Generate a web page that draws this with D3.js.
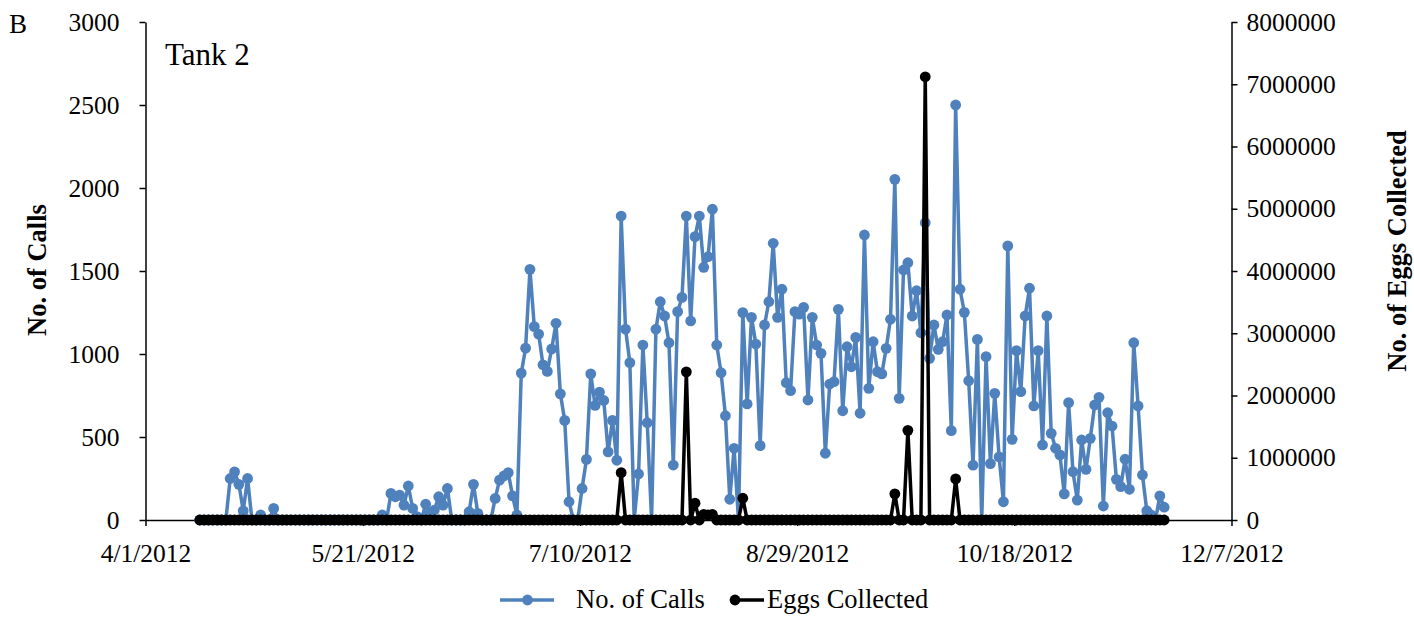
<!DOCTYPE html>
<html>
<head>
<meta charset="utf-8">
<script src="https://cdn.jsdelivr.net/npm/d3@7/dist/d3.min.js"></script>
<style>
  html, body { margin: 0; padding: 0; background: #fff; }
  svg { display: block; }
  text { font-family: "Liberation Serif", "Times New Roman", serif; fill: #000; }
</style>
</head>
<body>
<svg id="chart" width="1414" height="617"></svg>
<script>
// Daily observations, Tank 2, starting 4/13/2012 (one value per day through 11/21/2012)
const firstDay = "2012-04-13";

const calls = [
  0, 0, 0, 0, 0, 0, 0,                                   // 4/13 - 4/19
  250, 290, 215, 55, 250, 0, 0, 30, 0, 0, 70,            // 4/20 - 4/30
  0, 0, 0, 0, 0, 0, 0, 0, 0, 0, 0, 0,                    // 5/1 - 5/12
  0, 0, 0, 0, 0, 0, 0, 0, 0, 0, 0, 0,                    // 5/13 - 5/24
  30, 0, 160, 140, 150, 90, 205, 70, 20, 0, 95, 40,      // 5/25 - 6/5
  60, 140, 90, 190, 0, 0, 0, 0, 50, 215, 40, 0,          // 6/6 - 6/17
  0, 0, 130, 240, 265, 285, 145, 30, 885, 1035, 1510,    // 6/18 - 6/28
  1165, 1120, 935, 895, 1030, 1185, 760, 600, 110, 0, 0, // 6/29 - 7/9
  190, 365, 880, 690, 770, 720, 410, 600, 360, 1831,     // 7/10 - 7/19
  1150, 948, 0, 277, 1054, 586, 0, 1149, 1315, 1229,     // 7/20 - 7/29
  1068, 331, 1255, 1341, 1831, 1199, 1707, 1831, 1522,   // 7/30 - 8/7
  1586, 1872, 1054, 887, 628, 125, 432, 0, 1249, 699,    // 8/8 - 8/17
  1221, 1060, 448, 1175, 1315, 1667, 1221, 1390, 827,    // 8/18 - 8/26
  779, 1255, 1240, 1281, 723, 1221, 1054, 1004, 402,     // 8/27 - 9/4
  819, 833, 1269, 658, 1044, 923, 1100, 643, 1717, 793,  // 9/5 - 9/14
  1074, 893, 880, 1034, 1209, 2052, 733, 1506, 1550,     // 9/15 - 9/23
  1229, 1381, 1128, 1791, 974, 1175, 1028, 1074, 1235,   // 9/24 - 10/2
  538, 2500, 1390, 1251, 839, 330, 1088, 0, 984, 340,    // 10/3 - 10/12
  763, 380, 110, 1651, 486, 1020, 773, 1229, 1396, 687,  // 10/13 - 10/22
  1020, 452, 1229, 522, 432, 392, 157, 707, 291, 120,    // 10/23 - 11/1
  482, 305, 492, 693, 739, 84, 646, 566, 245, 201,       // 11/2 - 11/11
  366, 185, 1068, 687, 271, 56, 30, 0, 145, 77           // 11/12 - 11/21
];

const eggs = [
  0, 0, 0, 0, 0, 0, 0,
  0, 0, 0, 0, 0, 0, 0, 0, 0, 0, 0,
  0, 0, 0, 0, 0, 0, 0, 0, 0, 0, 0, 0,
  0, 0, 0, 0, 0, 0, 0, 0, 0, 0, 0, 0,
  0, 0, 0, 0, 0, 0, 0, 0, 0, 0, 0, 0,
  0, 0, 0, 0, 0, 0, 0, 0, 0, 0, 0, 0,
  0, 0, 0, 0, 0, 0, 0, 0, 0, 0, 0,
  0, 0, 0, 0, 0, 0, 0, 0, 0, 0, 0,
  0, 0, 0, 0, 0, 0, 0, 0, 0, 760000,
  0, 0, 0, 0, 0, 0, 0, 0, 0, 0,
  0, 0, 0, 0, 2380000, 0, 270000, 0, 90000,
  80000, 90000, 0, 0, 0, 0, 0, 0, 350000, 0,
  0, 0, 0, 0, 0, 0, 0, 0, 0,
  0, 0, 0, 0, 0, 0, 0, 0, 0,
  0, 0, 0, 0, 0, 0, 0, 0, 0, 0,
  0, 0, 0, 0, 0, 420000, 0, 0, 1440000,
  0, 0, 0, 7120000, 0, 0, 0, 0, 0,
  0, 660000, 0, 0, 0, 0, 0, 0, 0, 0,
  0, 0, 0, 0, 0, 0, 0, 0, 0, 0,
  0, 0, 0, 0, 0, 0, 0, 0, 0, 0,
  0, 0, 0, 0, 0, 0, 0, 0, 0, 0,
  0, 0, 0, 0, 0, 0, 0, 0, 0, 0
];

const dateTicks = ["4/1/2012", "5/21/2012", "7/10/2012", "8/29/2012", "10/18/2012", "12/7/2012"];
const callTicks = [0, 500, 1000, 1500, 2000, 2500, 3000];
const eggTicks = [0, 1000000, 2000000, 3000000, 4000000, 5000000, 6000000, 7000000, 8000000];
const seriesNames = ["No. of Calls", "Eggs Collected"];

const blue = "#4F81BD";
const svg = d3.select("#chart");

const plot = { left: 145.5, right: 1231.5, top: 22, bottom: 520 };

const parseUS = d3.timeParse("%m/%d/%Y");
const tickDates = dateTicks.map(parseUS);
const start = d3.timeParse("%Y-%m-%d")(firstDay);

// each day sits in the middle of its one-day slot on the date axis
const rows = calls.map((c, i) => ({
  date: d3.timeHour.offset(d3.timeDay.offset(start, i), 12),
  calls: c,
  eggs: eggs[i]
}));

const x = d3.scaleTime()
  .domain([tickDates[0], tickDates[tickDates.length - 1]])
  .range([plot.left, plot.right]);
const yL = d3.scaleLinear().domain([0, 3000]).range([plot.bottom, plot.top]);
const yR = d3.scaleLinear().domain([0, 8000000]).range([plot.bottom, plot.top]);

const fontSize = 25.5;

// left axis
const gL = svg.append("g").attr("transform", `translate(${plot.left},0)`)
  .call(d3.axisLeft(yL).tickValues(callTicks).tickSize(6).tickSizeOuter(0).tickPadding(20).tickFormat(d3.format("d")));
// right axis
const gR = svg.append("g").attr("transform", `translate(${plot.right},0)`)
  .call(d3.axisRight(yR).tickValues(eggTicks).tickSize(6).tickSizeOuter(0).tickPadding(9).tickFormat(d3.format("d")));
// bottom axis
const gB = svg.append("g").attr("transform", `translate(0,${plot.bottom})`)
  .call(d3.axisBottom(x).tickValues(tickDates).tickSize(6).tickSizeOuter(0).tickPadding(18).tickFormat(d3.timeFormat("%-m/%-d/%Y")));

[gL, gR, gB].forEach(g => {
  g.selectAll("path.domain").attr("stroke", "#000").attr("stroke-width", 1.5);
  g.selectAll(".tick line").attr("stroke", "#000").attr("stroke-width", 1.5);
  g.selectAll(".tick text")
    .attr("font-family", "'Liberation Serif', 'Times New Roman', serif")
    .attr("font-size", fontSize).attr("fill", "#000");
});
gB.select("path.domain").raise();

// calls series (blue)
const lineCalls = d3.line().x(d => x(d.date)).y(d => yL(d.calls));
svg.append("path").datum(rows)
  .attr("fill", "none").attr("stroke", blue).attr("stroke-width", 3.5)
  .attr("stroke-linejoin", "round").attr("d", lineCalls);
svg.append("g").selectAll("circle").data(rows).join("circle")
  .attr("cx", d => x(d.date)).attr("cy", d => yL(d.calls)).attr("r", 5.4)
  .attr("fill", blue);

// eggs series (black) drawn over the calls
const lineEggs = d3.line().x(d => x(d.date)).y(d => yR(d.eggs));
svg.append("path").datum(rows)
  .attr("fill", "none").attr("stroke", "#000").attr("stroke-width", 3.5)
  .attr("stroke-linejoin", "round").attr("d", lineEggs);
svg.append("g").selectAll("circle").data(rows).join("circle")
  .attr("cx", d => x(d.date)).attr("cy", d => yR(d.eggs)).attr("r", 5.4)
  .attr("fill", "#000");

// axis titles
svg.append("text")
  .attr("transform", "translate(46,270) rotate(-90)")
  .attr("text-anchor", "middle").attr("font-weight", "bold").attr("font-size", 26.5)
  .text("No. of Calls");
svg.append("text")
  .attr("transform", "translate(1406,251) rotate(-90)")
  .attr("text-anchor", "middle").attr("font-weight", "bold").attr("font-size", 26.5)
  .text("No. of Eggs Collected");

// panel letter and tank label
svg.append("text").attr("x", 9).attr("y", 32.5).attr("font-size", 27).text("B");
svg.append("text").attr("x", 165).attr("y", 65).attr("font-size", 31).text("Tank 2");

// legend
const lg = svg.append("g");
const ly = 600;
lg.append("line").attr("x1", 500).attr("x2", 554).attr("y1", ly).attr("y2", ly)
  .attr("stroke", blue).attr("stroke-width", 3.5);
lg.append("circle").attr("cx", 527.5).attr("cy", ly).attr("r", 5.4).attr("fill", blue);
lg.append("text").attr("x", 576).attr("y", 608).attr("font-size", 26.5).text(seriesNames[0]);
lg.append("line").attr("x1", 730).attr("x2", 764).attr("y1", ly).attr("y2", ly)
  .attr("stroke", "#000").attr("stroke-width", 3.5);
lg.append("circle").attr("cx", 735).attr("cy", ly).attr("r", 5.4).attr("fill", "#000");
lg.append("text").attr("x", 767).attr("y", 608).attr("font-size", 26.5).text(seriesNames[1]);
</script>
</body>
</html>
